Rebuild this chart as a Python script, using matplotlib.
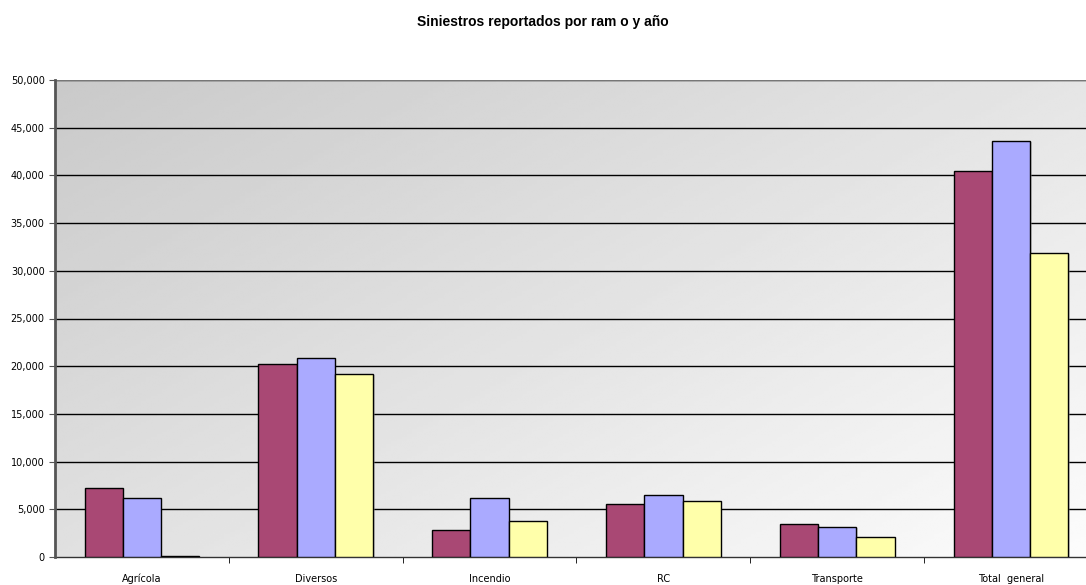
import numpy as np
import matplotlib.pyplot as plt
from matplotlib.ticker import FuncFormatter

# siniestros por ramo, tres años
ramos = ['Agrícola', 'Diversos', 'Incendio', 'RC', 'Transporte', 'Total  general']
serie_1 = [7250, 20250, 2850, 5550, 3450, 40450]
serie_2 = [6200, 20900, 6200, 6550, 3150, 43600]
serie_3 = [60, 19200, 3750, 5900, 2050, 31900]
colores = ['#A94874', '#AAAAFF', '#FFFFAA']

fig = plt.figure(figsize=(10.86, 5.85), dpi=100)
ax = fig.add_axes([55/1086, 28/585, 1043/1086, 477/585])

x = np.arange(len(ramos))
w = 0.22
ax.set_xlim(-0.5, len(ramos) - 0.5)
ax.set_ylim(0, 50000)

# fondo degradado: oscuro arriba a la izquierda, claro abajo a la derecha
gx, gy = np.meshgrid(np.linspace(0, 1, 200), np.linspace(0, 1, 200))
grad = 0.79 + 0.20 * (0.55 * gx + 0.45 * gy)
ax.imshow(grad, cmap='gray', vmin=0, vmax=1, extent=[0, 1, 0, 1], origin='upper',
          transform=ax.transAxes, aspect='auto', zorder=0, interpolation='bilinear')

for y in range(5000, 50001, 5000):
    ax.axhline(y, color='black', lw=1, zorder=1)

for i, (vals, c) in enumerate(zip([serie_1, serie_2, serie_3], colores)):
    pos = x + (i - 1) * w
    # sombra leve
    ax.bar(pos + 0.008, vals, w, bottom=-150, color='#999999', alpha=0.4, zorder=2)
    ax.bar(pos, vals, w, color=c, edgecolor='black', lw=1, zorder=3)

ax.set_xticks(x)
ax.set_xticklabels(ramos, fontsize=7)
ax.set_xticks(np.arange(0.5, len(ramos) - 0.5, 1), minor=True)
ax.tick_params(axis='x', which='major', length=0, pad=12)
ax.tick_params(axis='x', which='minor', length=4, direction='out', color='black')
ax.set_yticks(range(0, 50001, 5000))
ax.yaxis.set_major_formatter(FuncFormatter(lambda v, p: f'{int(v):,}'))
ax.tick_params(axis='y', length=4, labelsize=7, color='#555555')

for s in ['top', 'right']:
    ax.spines[s].set_visible(False)
ax.spines['left'].set_color('#555555')
ax.spines['left'].set_linewidth(2)
ax.spines['bottom'].set_color('#333333')
ax.spines['bottom'].set_linewidth(1)
ax.spines['left'].set_zorder(5)
ax.axhline(50000, color='#777777', lw=1.5, zorder=1)

fig.text(0.5, 1 - 22/585, 'Siniestros reportados por ram o y año', ha='center', va='center',
         fontsize=10, fontweight='bold', family='Liberation Sans')

fig.savefig('out.png', dpi=100)
